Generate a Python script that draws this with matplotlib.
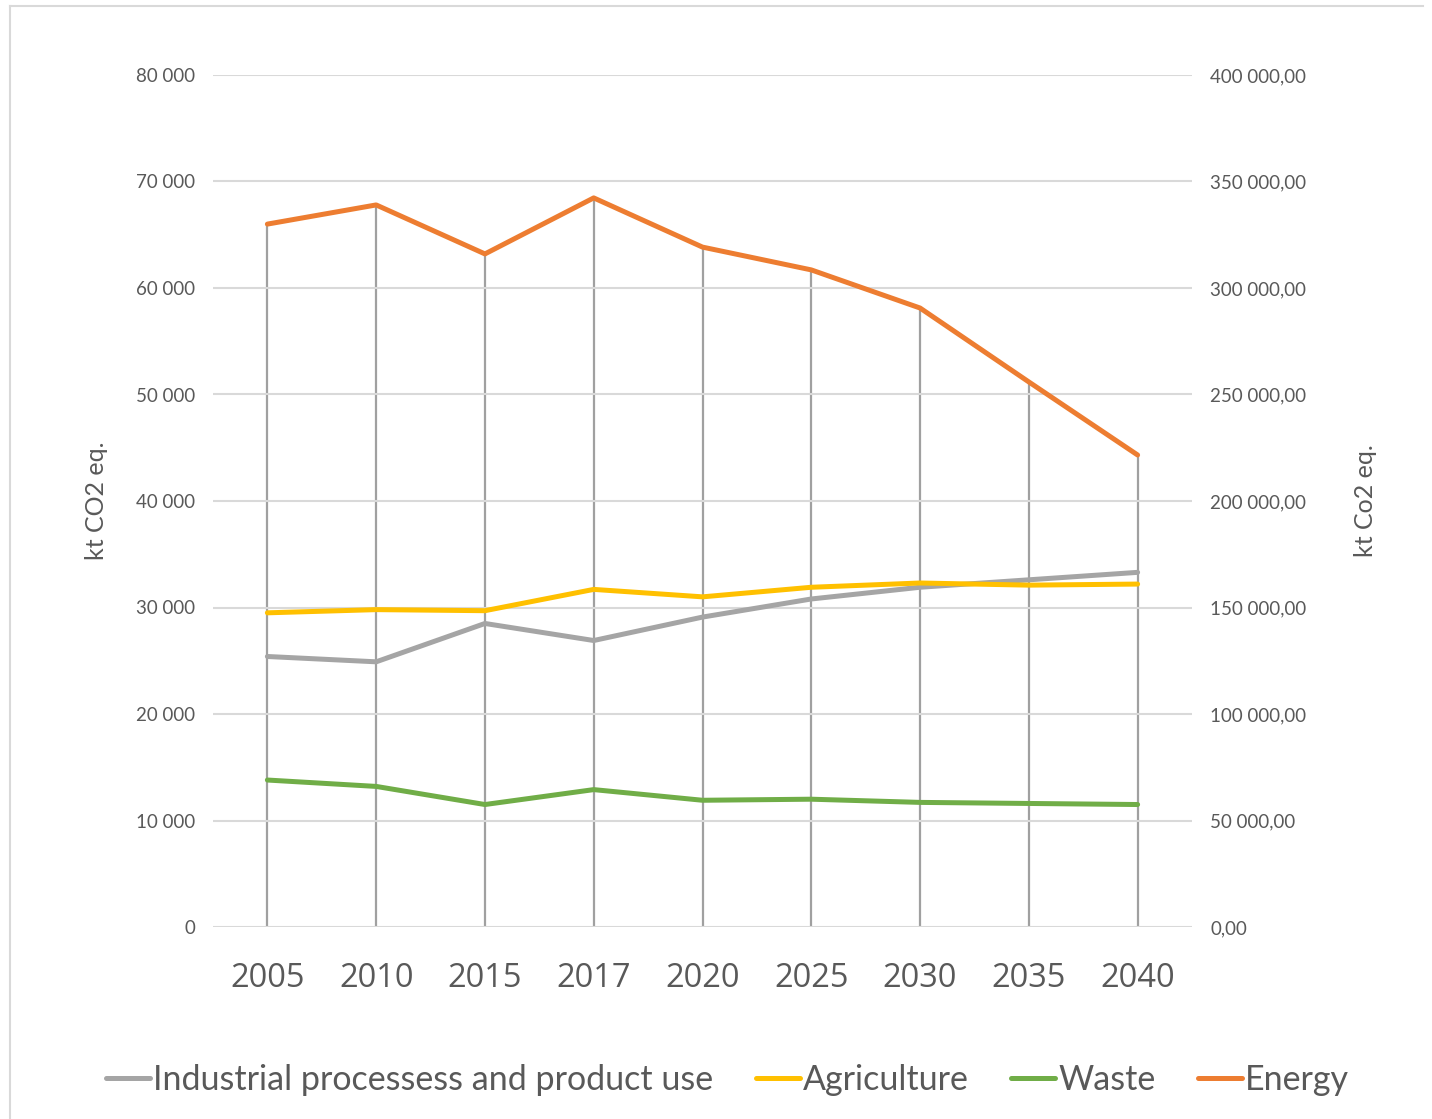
import matplotlib
matplotlib.use('Agg')
import matplotlib.pyplot as plt
from matplotlib.lines import Line2D
from matplotlib.ticker import FuncFormatter

years = ['2005', '2010', '2015', '2017', '2020', '2025', '2030', '2035', '2040']
industrial = [25400, 24900, 28500, 26900, 29100, 30800, 31900, 32600, 33300]
agriculture = [29500, 29800, 29700, 31700, 31000, 31900, 32300, 32100, 32200]
waste = [13800, 13200, 11500, 12900, 11900, 12000, 11700, 11600, 11500]
energy = [330000, 339000, 316000, 342300, 319200, 308500, 290600, 255900, 221600]

left_ticks = [0, 10000, 20000, 30000, 40000, 50000, 60000, 70000, 80000]
right_ticks = [0, 50000, 100000, 150000, 200000, 250000, 300000, 350000, 400000]

txt = '#595959'
c_ind = '#a5a5a5'
c_agr = '#ffc000'
c_was = '#70ad47'
c_ene = '#ed7d31'

plt.rcParams['font.family'] = ['Lato', 'DejaVu Sans']

fig = plt.figure(figsize=(14.32, 11.19), dpi=100)
ax1 = fig.add_axes([213/1432, 1-927/1119, (1192-213)/1432, (927-75)/1119])
ax2 = ax1.twinx()

x = list(range(len(years)))

# right axis: grid, drop lines and energy
ax2.set_ylim(0, 400000)
ax2.set_yticks(right_ticks)
ax2.yaxis.set_major_formatter(FuncFormatter(lambda v, p: '{:,.2f}'.format(v).replace(',', ' ').replace('.', ',')))
ax2.grid(axis='y', color='#d9d9d9', linewidth=1.5, zorder=0)
ax2.vlines(x, 0, energy, color='#a0a0a0', linewidth=1.6, zorder=1)
ax2.plot(x, energy, color=c_ene, linewidth=3.6, solid_capstyle='round', zorder=3)

# left axis lines on top
ax1.set_zorder(ax2.get_zorder() + 1)
ax1.patch.set_visible(False)
ax1.plot(x, industrial, color=c_ind, linewidth=3.6, solid_capstyle='round')
ax1.plot(x, agriculture, color=c_agr, linewidth=3.6, solid_capstyle='round')
ax1.plot(x, waste, color=c_was, linewidth=3.6, solid_capstyle='round')
ax1.set_ylim(0, 80000)
ax1.set_yticks(left_ticks)
ax1.yaxis.set_major_formatter(FuncFormatter(lambda v, p: '{:,.0f}'.format(v).replace(',', ' ')))
ax1.set_xlim(-0.5, len(years) - 0.5)
ax1.set_xticks(x)
ax1.set_xticklabels(years, fontsize=23.5, color=txt, family=['Open Sans', 'DejaVu Sans'])

for ax in (ax1, ax2):
    for s in ax.spines.values():
        s.set_visible(False)
    ax.tick_params(length=0)
ax1.tick_params(axis='y', labelsize=13.5, labelcolor=txt, pad=13)
ax2.tick_params(axis='y', labelsize=13.5, labelcolor=txt, pad=13)
ax1.tick_params(axis='x', pad=25)

ax1.set_ylabel('kt CO2 eq.', fontsize=18, color=txt, labelpad=20)
ax2.set_ylabel('kt Co2 eq.', fontsize=18, color=txt, rotation=90, labelpad=34)

handles = [Line2D([], [], color=c, linewidth=3.6, solid_capstyle='round') for c in (c_ind, c_agr, c_was, c_ene)]
labels = ['Industrial processess and product use', 'Agriculture', 'Waste', 'Energy']
leg = fig.legend(handles, labels, loc='center', bbox_to_anchor=(0.508, 1-1080/1119), ncol=4,
                 frameon=False, fontsize=24.5, handlelength=1.3, handletextpad=0.08, columnspacing=1.25)
for t in leg.get_texts():
    t.set_color(txt)

# chart border (top and left edge)
fig.add_artist(Line2D([10/1432, 10/1432], [0, 1-6/1119], color='#d9d9d9', linewidth=1.5, transform=fig.transFigure))
fig.add_artist(Line2D([10/1432, 1423/1432], [1-6/1119, 1-6/1119], color='#d9d9d9', linewidth=1.5, transform=fig.transFigure))

plt.savefig('out.png', dpi=100)
